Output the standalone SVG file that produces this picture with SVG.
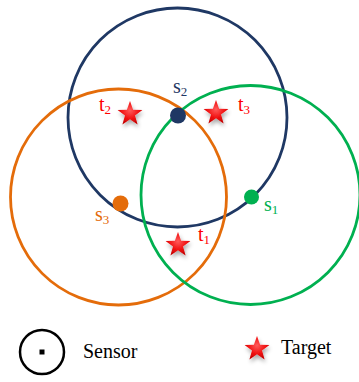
<svg xmlns="http://www.w3.org/2000/svg" width="359" height="382" viewBox="0 0 359 382">
<style>
.range{fill:none;stroke-width:2.8}
.lbl{font-family:"Liberation Serif","Times New Roman",serif;font-size:20px}
.sub{font-size:13px}
.leg{font-family:"Liberation Serif","Times New Roman",serif;font-size:20px;fill:#000}
</style>
<defs>
<radialGradient id="sg" cx="50%" cy="40%" r="60%">
<stop offset="0" stop-color="#ff5a5a"/>
<stop offset="0.6" stop-color="#f01010"/>
<stop offset="1" stop-color="#c00000"/>
</radialGradient>
<filter id="sh" x="-50%" y="-50%" width="200%" height="200%">
<feGaussianBlur in="SourceAlpha" stdDeviation="2"/>
<feOffset dx="1" dy="3"/>
<feComponentTransfer><feFuncA type="linear" slope="0.35"/></feComponentTransfer>
<feMerge><feMergeNode/><feMergeNode in="SourceGraphic"/></feMerge>
</filter>
<polygon id="star" points="0,-13 3.1,-4.3 12.4,-4 5,1.6 7.6,10.5 0,5.3 -7.6,10.5 -5,1.6 -12.4,-4 -3.1,-4.3" fill="url(#sg)" filter="url(#sh)"/>
</defs>
<g id="connectors"></g>
<g id="range-s2"><circle class="range" cx="177.5" cy="117.5" r="109.5" stroke="#1f3864"/></g>
<g id="range-s3"><circle class="range" cx="118.5" cy="197" r="108" stroke="#e46c0a"/></g>
<g id="range-s1"><circle class="range" cx="250.5" cy="195" r="109.5" stroke="#00b050"/></g>
<g id="s2"><circle cx="178" cy="115.5" r="8" fill="#1f3864"/><text class="lbl" x="173" y="93" fill="#1f3864">s<tspan class="sub" dy="3">2</tspan></text></g>
<g id="s3"><circle cx="120.5" cy="203.5" r="8" fill="#e46c0a"/><text class="lbl" x="95" y="221" fill="#e46c0a">s<tspan class="sub" dy="3">3</tspan></text></g>
<g id="s1"><circle cx="251.5" cy="197" r="7.5" fill="#00b050"/><text class="lbl" x="264" y="211" fill="#00b050">s<tspan class="sub" dy="3">1</tspan></text></g>
<g id="t2"><use href="#star" x="130" y="114"/><text class="lbl" x="99" y="111" fill="#ff0000">t<tspan class="sub" dy="3">2</tspan></text></g>
<g id="t3"><use href="#star" x="216" y="113"/><text class="lbl" x="238" y="111" fill="#ff0000">t<tspan class="sub" dy="3">3</tspan></text></g>
<g id="t1"><use href="#star" x="178" y="245"/><text class="lbl" x="198" y="241" fill="#ff0000">t<tspan class="sub" dy="3">1</tspan></text></g>
<g id="legend-sensor"><circle cx="42" cy="352" r="22" fill="none" stroke="#000" stroke-width="2.5"/><rect x="39.5" y="349.5" width="5" height="5" fill="#000"/><text class="leg" x="83" y="358">Sensor</text></g>
<g id="legend-target"><use href="#star" x="257" y="349"/><text class="leg" x="281" y="354">Target</text></g>
</svg>
